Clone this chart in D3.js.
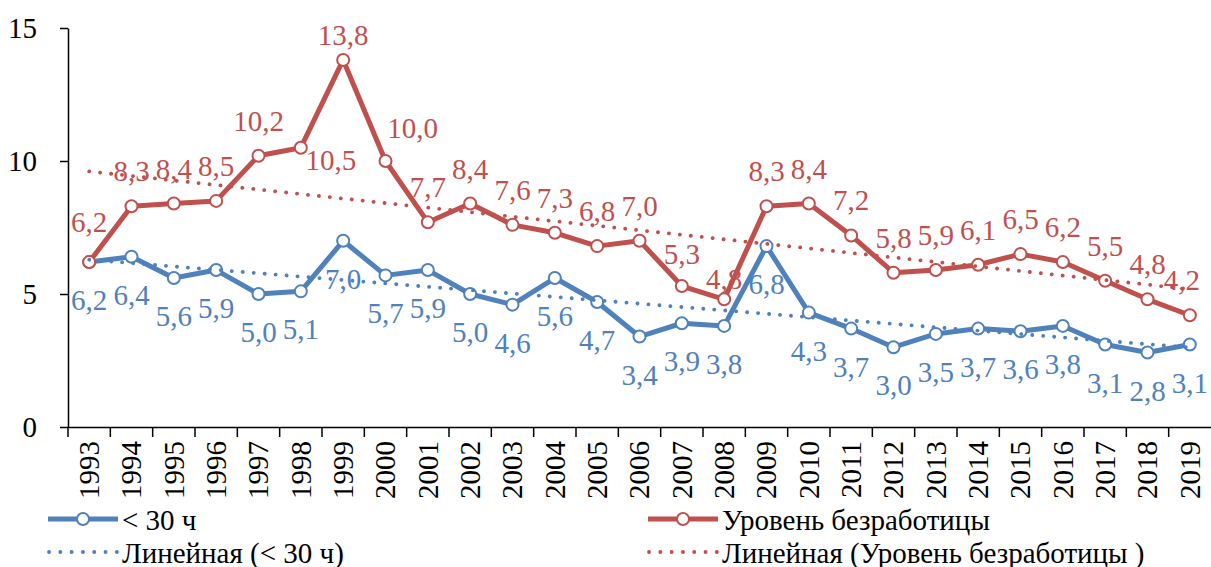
<!DOCTYPE html>
<html><head><meta charset="utf-8">
<script src="https://cdn.jsdelivr.net/npm/d3@7"></script>
<style>
@font-face{font-family:"ChartSerif";src:local("Liberation Serif"),local("LiberationSerif"),local("LiberationSerif-Regular"),local("Tinos"),local("Times New Roman");}
body{margin:0;background:#fff}
</style>
</head><body><svg id="c" width="1211" height="567"></svg>
<script>
// ---- data ----
const years = [1993,1994,1995,1996,1997,1998,1999,2000,2001,2002,2003,2004,2005,2006,2007,2008,2009,2010,2011,2012,2013,2014,2015,2016,2017,2018,2019];
const under30 = [6.2,6.4,5.6,5.9,5.0,5.1,7.0,5.7,5.9,5.0,4.6,5.6,4.7,3.4,3.9,3.8,6.8,4.3,3.7,3.0,3.5,3.7,3.6,3.8,3.1,2.8,3.1];
const unemployment = [6.2,8.3,8.4,8.5,10.2,10.5,13.8,10.0,7.7,8.4,7.6,7.3,6.8,7.0,5.3,4.8,8.3,8.4,7.2,5.8,5.9,6.1,6.5,6.2,5.5,4.8,4.2];
const yTicks = [0,5,10,15];
const seriesNames = ["< 30 ч","Уровень безработицы"];
const trendNames = ["Линейная (< 30 ч)","Линейная (Уровень безработицы )"];

// ---- layout / style ----
const BLUE = "#4F81BD", RED = "#C0504D";
const cands = ["Liberation Serif","Tinos","Times New Roman","ChartSerif"];
const ctx = document.createElement("canvas").getContext("2d");
function w(f){ctx.font = "30px " + f; return ctx.measureText("Уровень 1234 WQmil").width;}
let FAM = "Liberation Serif";
for (const f of cands){
  const a = w(`'${f}', monospace`), b = w("monospace");
  if (a !== b){ FAM = f; break; }
}
// label placement tweaks (dx, dy from default) keyed by index
const redAdjust = {0:[0,-5],5:[30,47],6:[0,10],7:[27,2],14:[0,3],15:[0,15],26:[-8,0]};
const blueAdjust = {};

const svg = d3.select("#c");
function txt(parent){
  return parent.append("text").attr("font-size",29).style("font-family",`'${FAM}'`);
}
const x = d3.scaleBand().domain(years).range([68,1211]).paddingInner(0).paddingOuter(0);
const bw = x.bandwidth();
const cx = d => x(d) + bw/2;
const y = d3.scaleLinear().domain([0,15]).range([427,28]);

// y axis
const ya = svg.append("g").attr("transform","translate(68,0)")
  .call(d3.axisLeft(y).tickValues(yTicks).tickSize(8).tickPadding(23).tickSizeOuter(0));
ya.attr("font-family",null).attr("font-size",null);
ya.select(".domain").attr("stroke","#000").attr("stroke-width",1.5);
ya.selectAll(".tick line").attr("stroke","#000").attr("stroke-width",1.5);
ya.selectAll("text").attr("fill","#000").attr("font-size",29).style("font-family",`'${FAM}'`);

// x axis
const xa = svg.append("g").attr("transform","translate(0,427)")
  .call(d3.axisBottom(x).tickSize(0).tickSizeOuter(0));
xa.attr("font-family",null).attr("font-size",null);
xa.select(".domain").attr("stroke","#000").attr("stroke-width",1.5);
xa.selectAll("text").attr("fill","#000").attr("font-size",29).style("font-family",`'${FAM}'`)
  .attr("transform","rotate(-90)").attr("text-anchor","end").attr("x",-14).attr("y",0).attr("dy","0.34em");
xa.selectAll(".bt").data(years).enter().append("line")
  .attr("x1",d=>x(d)).attr("x2",d=>x(d)).attr("y1",0).attr("y2",10)
  .attr("stroke","#000").attr("stroke-width",1.5);

function trend(vals){
  const n = vals.length, xs = d3.range(n);
  const mx = d3.mean(xs), my = d3.mean(vals);
  const b = d3.sum(xs,(i)=> (i-mx)*(vals[i]-my)) / d3.sum(xs,i=>(i-mx)*(i-mx));
  const a = my - b*mx;
  return xs.map(i=>a+b*i);
}

const line = d3.line().x((d,i)=>cx(years[i])).y(d=>y(d));
const series = [
  {vals:under30,color:BLUE,adj:blueAdjust,below:true},
  {vals:unemployment,color:RED,adj:redAdjust,below:false}
];

series.forEach(s=>{
  svg.append("path").datum(s.vals).attr("d",line).attr("fill","none")
    .attr("stroke",s.color).attr("stroke-width",5).attr("stroke-linejoin","round");
  svg.append("g").selectAll("circle").data(s.vals).enter().append("circle")
    .attr("cx",(d,i)=>cx(years[i])).attr("cy",d=>y(d)).attr("r",6)
    .attr("fill","#fff").attr("stroke",s.color).attr("stroke-width",2);
});
series.forEach(s=>{
  s.vals.forEach((d,i)=>{
    txt(svg)
      .attr("x",cx(years[i]) + (s.adj[i]?s.adj[i][0]:0))
      .attr("y",y(d) + (s.below?48:-25) + (s.adj[i]?s.adj[i][1]:0))
      .attr("text-anchor","middle").attr("fill",s.color)
      .text(d3.format(".1f")(d).replace(".",","));
  });
});
series.forEach(s=>{
  const t = trend(s.vals);
  svg.append("path").datum(t).attr("d",line).attr("fill","none")
    .attr("stroke",s.color).attr("stroke-width",3.8).attr("stroke-linecap","round")
    .attr("stroke-dasharray","0.1 10.9");
});

// legend
const leg = [
  {x:48, y:519, color:BLUE, dotted:false, text:seriesNames[0]},
  {x:648, y:519, color:RED, dotted:false, text:seriesNames[1]},
  {x:48, y:552, color:BLUE, dotted:true, text:trendNames[0]},
  {x:648, y:552, color:RED, dotted:true, text:trendNames[1]}
];
leg.forEach(l=>{
  if(l.dotted){
    svg.append("line").attr("x1",l.x+1).attr("x2",l.x+69).attr("y1",l.y).attr("y2",l.y)
      .attr("stroke",l.color).attr("stroke-width",3.8).attr("stroke-linecap","round").attr("stroke-dasharray","0.1 11.2");
  } else {
    svg.append("line").attr("x1",l.x).attr("x2",l.x+70).attr("y1",l.y).attr("y2",l.y)
      .attr("stroke",l.color).attr("stroke-width",5);
    svg.append("circle").attr("cx",l.x+35).attr("cy",l.y).attr("r",6)
      .attr("fill","#fff").attr("stroke",l.color).attr("stroke-width",2);
  }
  txt(svg).attr("x",l.x+74).attr("y",l.y+11).attr("fill","#000").text(l.text);
});
</script></body></html>
